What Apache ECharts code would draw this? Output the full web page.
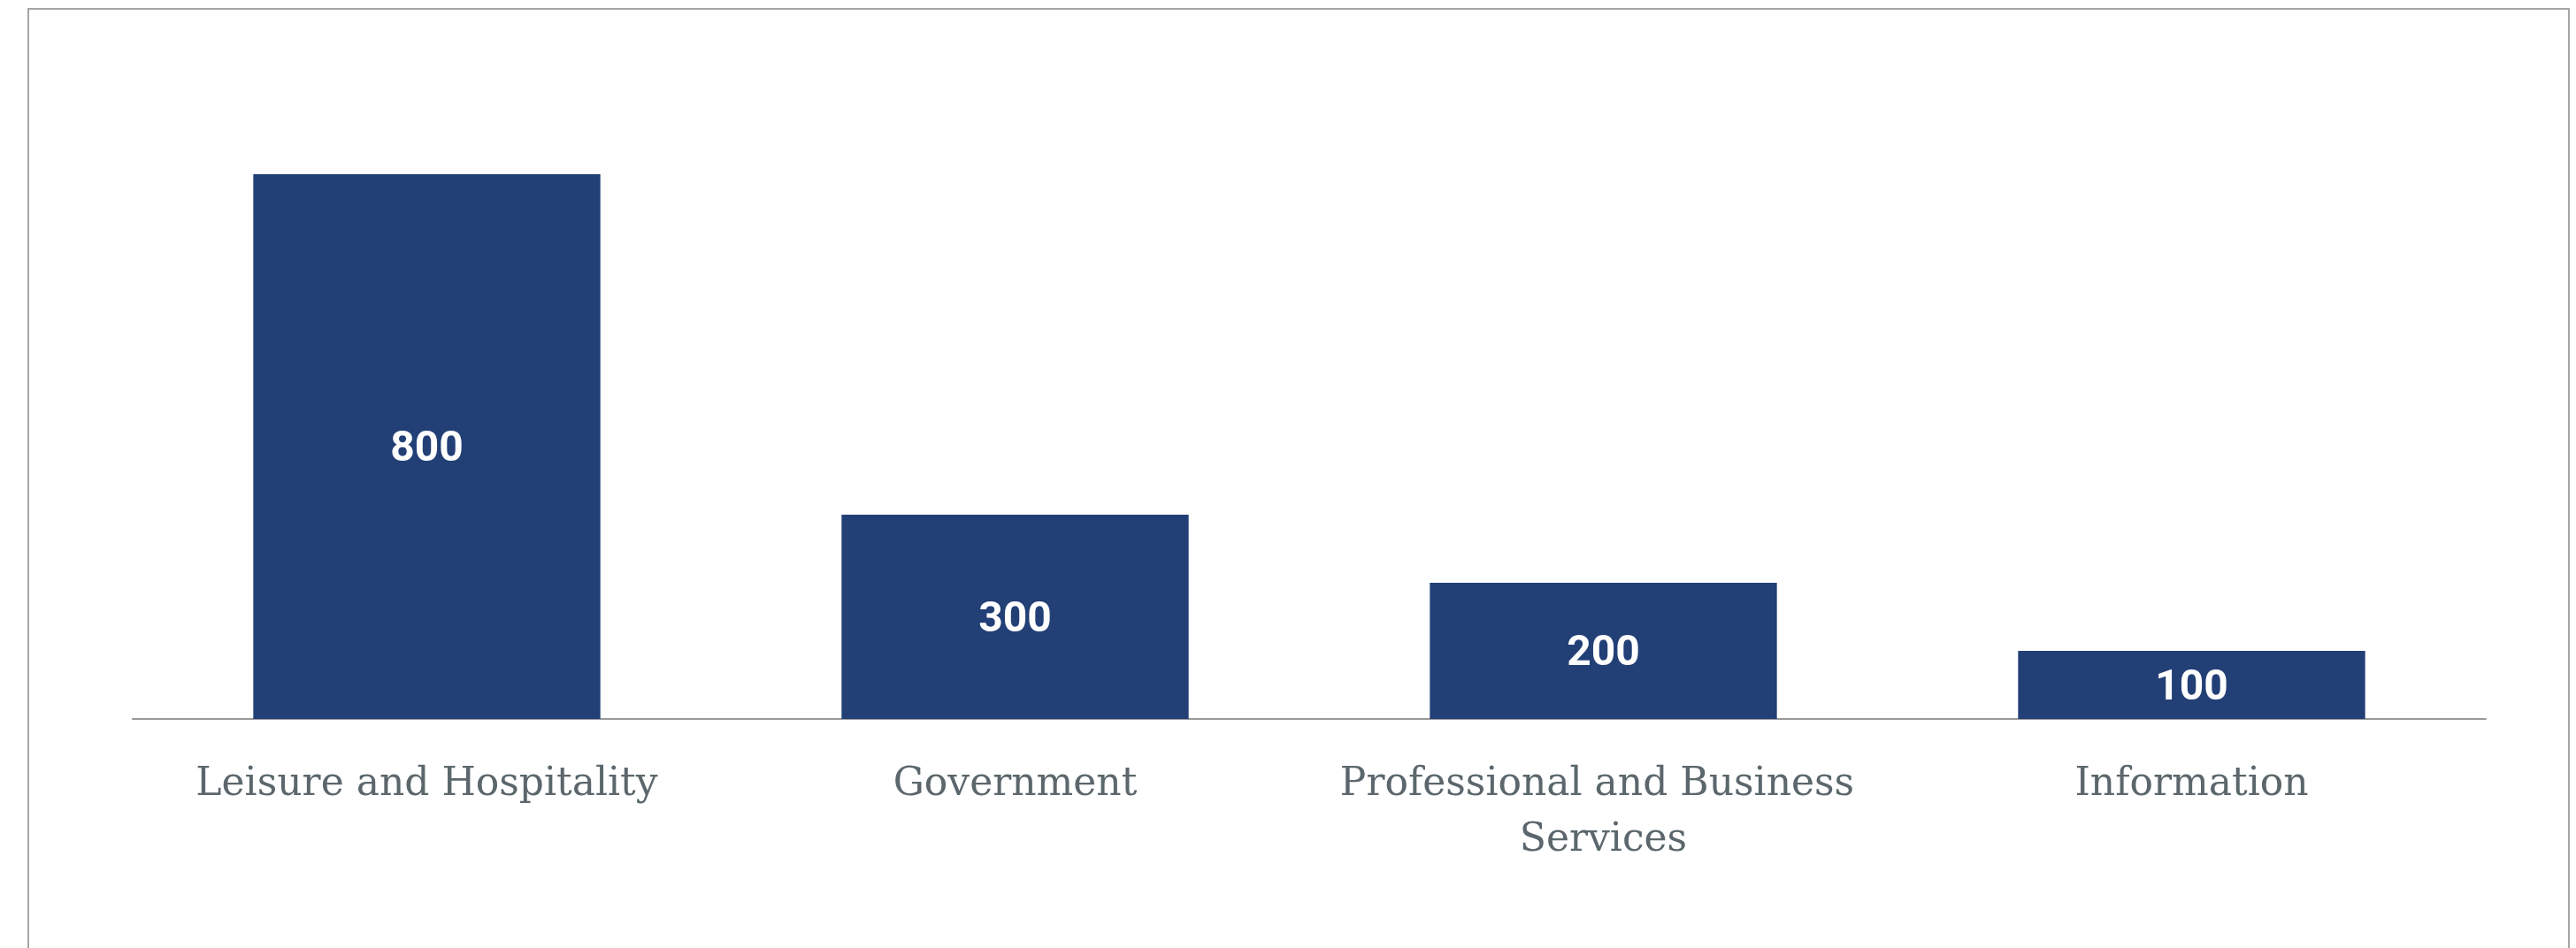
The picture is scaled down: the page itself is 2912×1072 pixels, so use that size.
<!DOCTYPE html>
<html>
<head>
<meta charset="utf-8">
<script src="https://cdn.jsdelivr.net/npm/echarts@6/dist/echarts.min.js"></script>
<style>
html,body{margin:0;padding:0;background:#fff;}
#chart{width:2912px;height:1072px;}
</style>
</head>
<body>
<div id="chart"></div>
<script>
const categories = ["Leisure and Hospitality", "Government", "Professional and Business Services", "Information"];
const values = [800, 300, 200, 100];

const chart = echarts.init(document.getElementById('chart'));
chart.setOption({
  animation: false,
  backgroundColor: '#ffffff',
  graphic: [{
    type: 'rect',
    shape: { x: 32, y: 10, width: 2872, height: 1200 },
    style: { fill: 'none', stroke: '#a6a6a6', lineWidth: 2 },
    silent: true
  }],
  grid: { left: 150, right: 102, top: 43, bottom: 259 },
  xAxis: {
    type: 'category',
    data: categories,
    axisLine: { show: true, lineStyle: { color: '#999999', width: 2 } },
    axisTick: { show: false },
    axisLabel: {
      fontFamily: 'DejaVu Serif',
      fontSize: 44,
      color: '#5b676c',
      margin: 43,
      lineHeight: 63,
      width: 640,
      overflow: 'break',
      interval: 0
    }
  },
  yAxis: {
    type: 'value',
    min: 0,
    max: 1000,
    show: false,
    splitLine: { show: false }
  },
  series: [{
    type: 'bar',
    data: values,
    barWidth: '59%',
    itemStyle: { color: '#223f76' },
    label: {
      show: true,
      position: 'inside',
      offset: [0, 4],
      color: '#ffffff',
      fontFamily: 'Roboto',
      fontWeight: 'bold',
      fontSize: 48
    }
  }]
});
</script>
</body>
</html>
